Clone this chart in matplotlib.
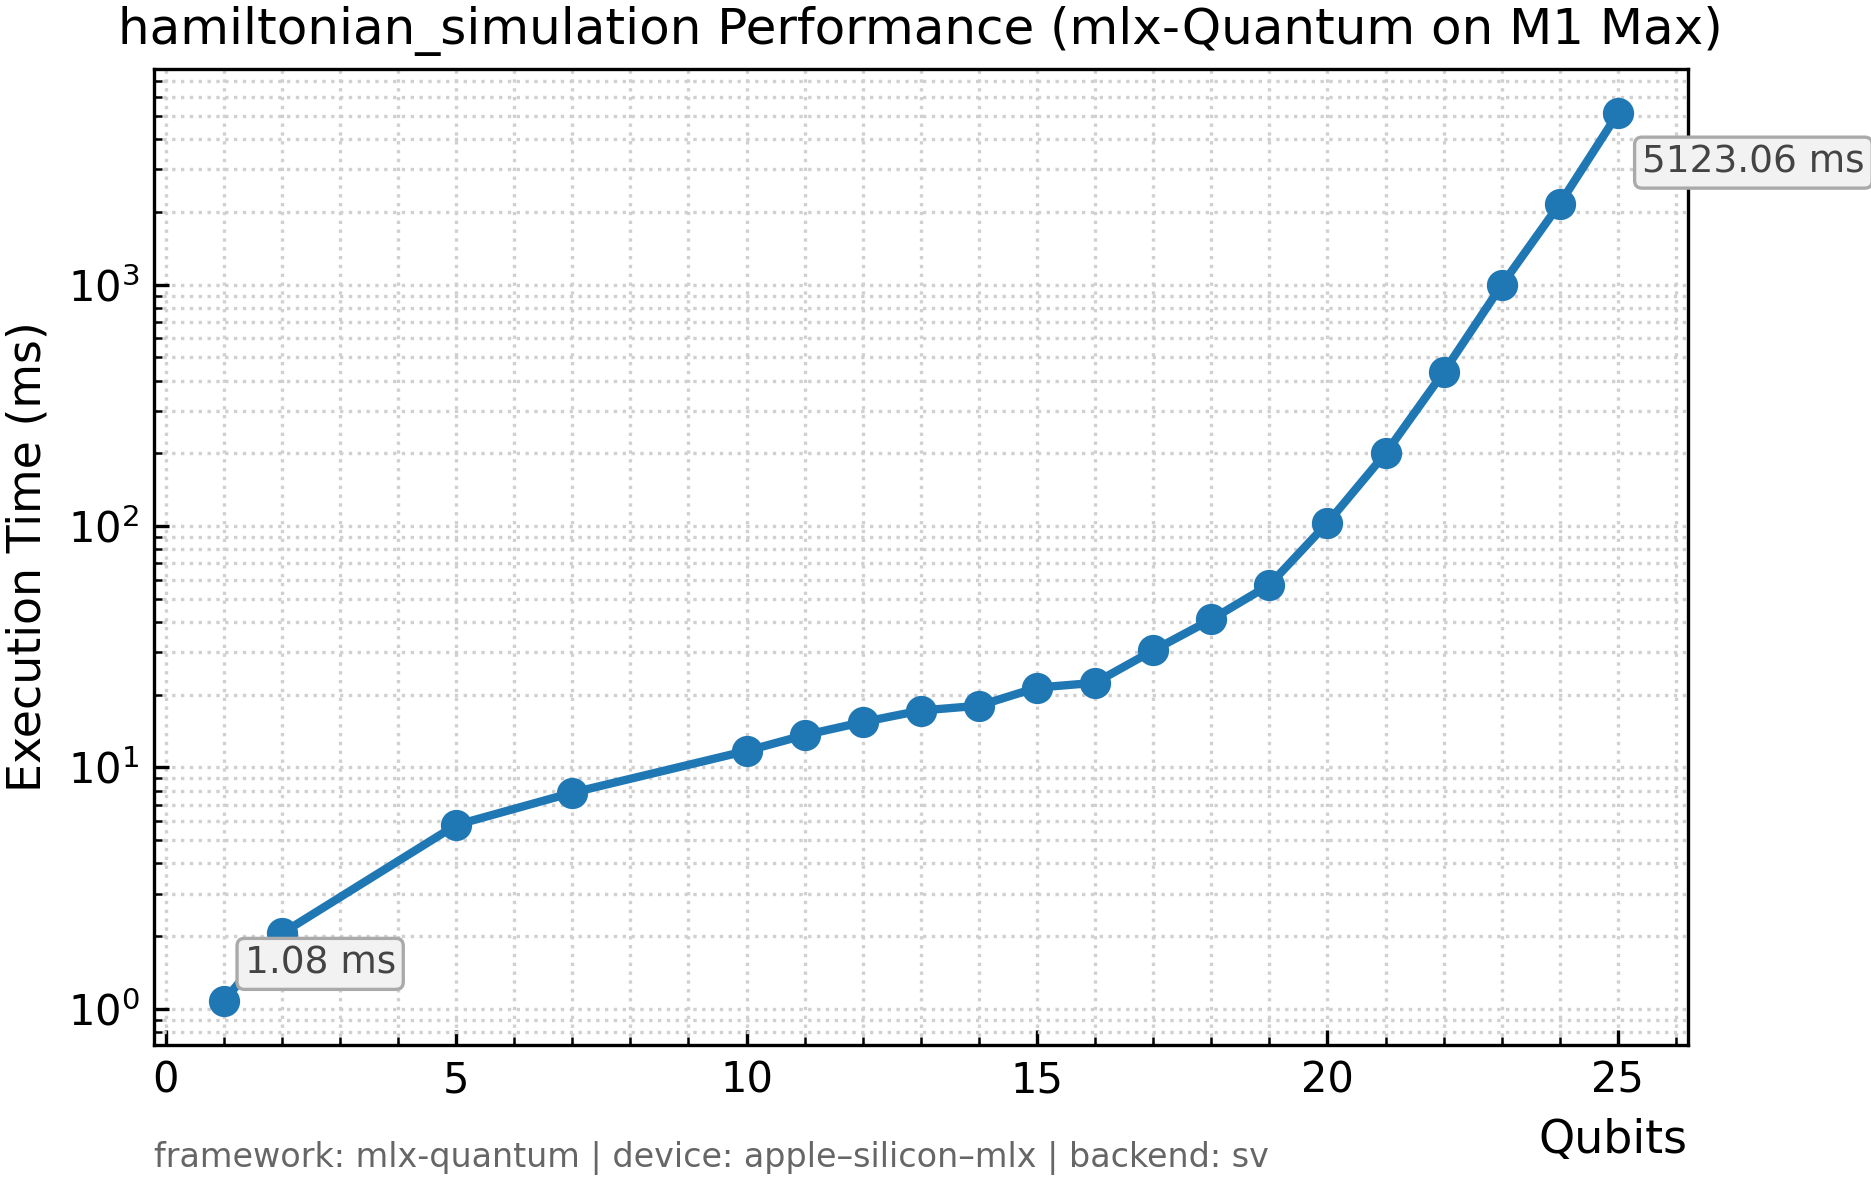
import matplotlib
matplotlib.use("Agg")
import matplotlib.pyplot as plt
from matplotlib.ticker import MultipleLocator

qubits = [1, 2, 5, 7, 10, 11, 12, 13, 14, 15, 16, 17, 18, 19, 20, 21, 22, 23, 24, 25]
times_ms = [1.08, 2.05, 5.77, 7.85, 11.7, 13.6, 15.4, 17.2, 18.0, 21.4, 22.4,
            30.5, 41.0, 57.0, 103, 200, 434, 996, 2165, 5123.06]

title = "hamiltonian_simulation Performance (mlx-Quantum on M1 Max)"
footer = "framework: mlx-quantum | device: apple\u2013silicon\u2013mlx | backend: sv"

fig = plt.figure(figsize=(1871 / 300, 1182 / 300), dpi=300)
ax = fig.add_axes([0.0823, 0.1159, 0.902 - 0.0823, 0.9416 - 0.1159])

ax.plot(qubits, times_ms, color="#1f77b4", linewidth=2, marker="o", markersize=6.5)
ax.set_yscale("log")

ax.xaxis.set_major_locator(MultipleLocator(5))
ax.xaxis.set_minor_locator(MultipleLocator(1))
ax.tick_params(which="both", direction="in", top=False, right=False, labelsize=10)
ax.grid(True, which="both", linestyle=":", color="#d0d0d0", linewidth=0.8)
ax.set_axisbelow(True)

ax.set_title(title, fontsize=12)
ax.set_xlabel("Qubits", fontsize=11, loc="right")
ax.set_ylabel("Execution Time (ms)", fontsize=11)

# first / last value labels
box = dict(boxstyle="round,pad=0.2", facecolor="#f2f2f2", edgecolor="#aaaaaa", linewidth=0.8)
ax.annotate(f"{times_ms[0]:.2f} ms", (qubits[0], times_ms[0]), xytext=(5, 4.5),
            textcoords="offset points", ha="left", va="bottom", fontsize=9,
            color="#444444", bbox=box)
ax.annotate(f"{times_ms[-1]:.2f} ms", (qubits[-1], times_ms[-1]), xytext=(5.8, -7.5),
            textcoords="offset points", ha="left", va="top", fontsize=9,
            color="#444444", bbox=box)

fig.text(0.0823, 0.006, footer, fontsize=8, color="#666666", ha="left", va="bottom")

fig.savefig("out.png", dpi=300)
